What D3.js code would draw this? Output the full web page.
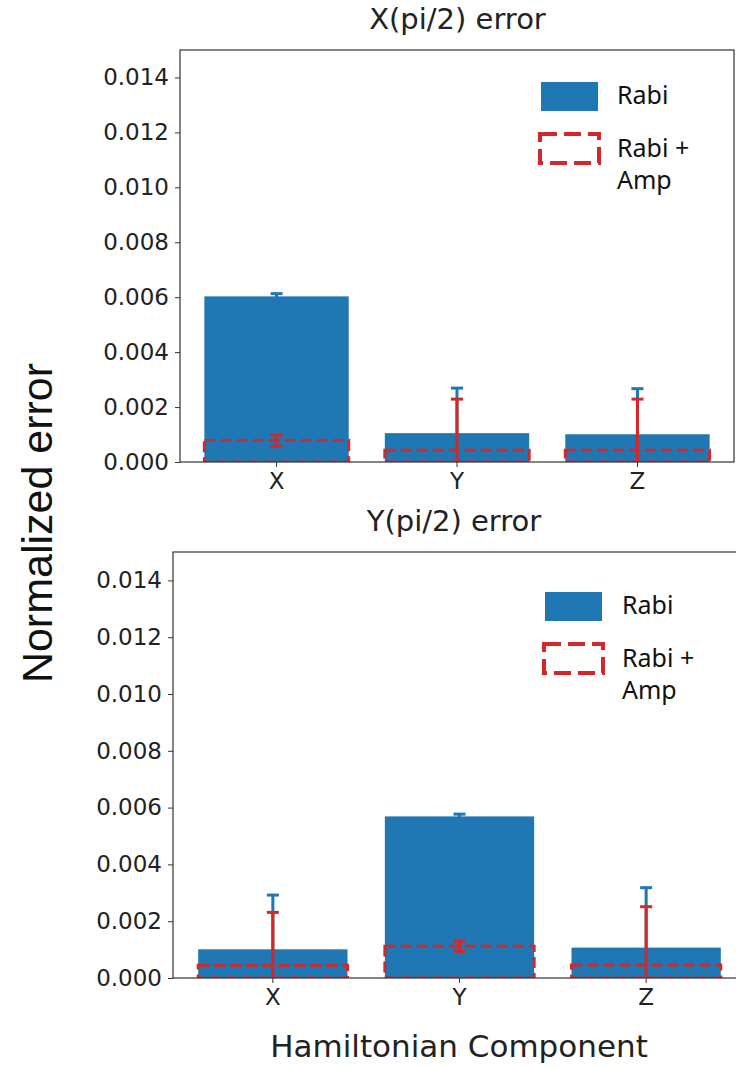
<!DOCTYPE html>
<html>
<head>
<meta charset="utf-8">
<script src="https://cdn.jsdelivr.net/npm/d3@7"></script>
<style>
  body { margin: 0; background: #fff; }
  svg { display: block; }
</style>
</head>
<body>
<svg id="chart" width="736" height="1068"></svg>
<script>
const components = ["X", "Y", "Z"];
const yTicks = [0, 0.002, 0.004, 0.006, 0.008, 0.010, 0.012, 0.014];

// X(pi/2) error panel
const rabiX = [0.00603, 0.00105, 0.00101];
const rabiXErr = [0.0001, 0.00164, 0.00166];
const ampX = [0.00078, 0.00043, 0.00043];
const ampXErr = [0.0002, 0.00186, 0.00186];

// Y(pi/2) error panel
const rabiY = [0.00101, 0.00569, 0.00107];
const rabiYErr = [0.00191, 0.00008, 0.00211];
const ampY = [0.00045, 0.00112, 0.00046];
const ampYErr = [0.00186, 0.00018, 0.00205];

const blue = "#1f77b4";
const red = "#d62728";
const svg = d3.select("#chart");

const panels = [
    { id: "p1", title: "X(pi/2) error", left: 180, right: 734, top: 50, bottom: 462,
      rabi: rabiX, rabiErr: rabiXErr, amp: ampX, ampErr: ampXErr, legendY: 82, legendX: 541, textX: 617 },
    { id: "p2", title: "Y(pi/2) error", left: 173, right: 746, top: 552, bottom: 978,
      rabi: rabiY, rabiErr: rabiYErr, amp: ampY, ampErr: ampYErr, legendY: 592, legendX: 545, textX: 622 }
];

function drawErr(g, x, y, vals, errs, color) {
    const cap = 6;
    components.forEach((c, i) => {
        const cx = x(c) + x.bandwidth() / 2;
        const y0 = y(vals[i] - errs[i]);
        const y1 = y(vals[i] + errs[i]);
        g.append("line").attr("x1", cx).attr("x2", cx).attr("y1", y0).attr("y2", y1)
            .attr("stroke", color).attr("stroke-width", 3);
        [y0, y1].forEach(yy => {
            g.append("line").attr("x1", cx - cap).attr("x2", cx + cap).attr("y1", yy).attr("y2", yy)
                .attr("stroke", color).attr("stroke-width", 3);
        });
    });
}

panels.forEach(p => {
    const x = d3.scaleBand().domain(components).range([p.left, p.right])
        .paddingInner(0.2).paddingOuter(0.135);
    const y = d3.scaleLinear().domain([0, 0.015]).range([p.bottom, p.top]);

    svg.append("clipPath").attr("id", "clip-" + p.id)
        .append("rect").attr("x", p.left).attr("y", p.top)
        .attr("width", p.right - p.left).attr("height", p.bottom - p.top);

    const g = svg.append("g").attr("clip-path", `url(#clip-${p.id})`);

    g.selectAll(".rabi").data(p.rabi).join("rect")
        .attr("class", "rabi")
        .attr("x", (d, i) => x(components[i]))
        .attr("width", x.bandwidth())
        .attr("y", d => y(d))
        .attr("height", d => y(0) - y(d))
        .attr("fill", blue);
    drawErr(g, x, y, p.rabi, p.rabiErr, blue);

    g.selectAll(".amp").data(p.amp).join("rect")
        .attr("class", "amp")
        .attr("x", (d, i) => x(components[i]))
        .attr("width", x.bandwidth())
        .attr("y", d => y(d))
        .attr("height", d => y(0) - y(d))
        .attr("fill", "none")
        .attr("stroke", red)
        .attr("stroke-width", 3)
        .attr("stroke-dasharray", "11,5");
    drawErr(g, x, y, p.amp, p.ampErr, red);

    // frame
    svg.append("rect").attr("x", p.left).attr("y", p.top)
        .attr("width", p.right - p.left).attr("height", p.bottom - p.top)
        .attr("fill", "none").attr("stroke", "#333").attr("stroke-width", 1.2);

    const yAxis = svg.append("g").attr("transform", `translate(${p.left},0)`)
        .call(d3.axisLeft(y).tickValues(yTicks).tickFormat(d3.format(".3f")).tickSize(5).tickPadding(6));
    const xAxis = svg.append("g").attr("transform", `translate(0,${p.bottom})`)
        .call(d3.axisBottom(x).tickSize(5).tickPadding(6));
    [yAxis, xAxis].forEach(a => {
        a.select(".domain").remove();
        a.selectAll("line").attr("stroke", "#333");
        a.selectAll("text").attr("fill", "#222")
            .style("font-family", "DejaVu Sans").style("font-size", "23px");
    });

    svg.append("text").attr("x", (p.left + 735) / 2).attr("y", p.top - 21)
        .attr("text-anchor", "middle")
        .style("font-family", "DejaVu Sans").style("font-size", "29px").attr("fill", "#222")
        .text(p.title);

    // legend
    const lg = svg.append("g").style("font-family", "Noto Sans").style("font-size", "25px").attr("fill", "#111");
    lg.append("rect").attr("x", p.legendX).attr("y", p.legendY).attr("width", 57).attr("height", 29).attr("fill", blue);
    lg.append("rect").attr("x", p.legendX - 1).attr("y", p.legendY + 52).attr("width", 59).attr("height", 29)
        .attr("fill", "none").attr("stroke", red).attr("stroke-width", 4).attr("stroke-dasharray", "17,7");
    lg.append("text").attr("x", p.textX).attr("y", p.legendY + 22).text("Rabi");
    lg.append("text").attr("x", p.textX).attr("y", p.legendY + 75).text("Rabi +");
    lg.append("text").attr("x", p.textX).attr("y", p.legendY + 107).text("Amp");
});

svg.append("text").attr("x", 459).attr("y", 1057).attr("text-anchor", "middle")
    .style("font-family", "DejaVu Sans").style("font-size", "31px").attr("fill", "#222")
    .text("Hamiltonian Component");

svg.append("text").attr("transform", "translate(52,523) rotate(-90)").attr("text-anchor", "middle")
    .style("font-family", "Liberation Sans").style("font-size", "43px").attr("fill", "#111")
    .text("Normalized error");
</script>
</body>
</html>
